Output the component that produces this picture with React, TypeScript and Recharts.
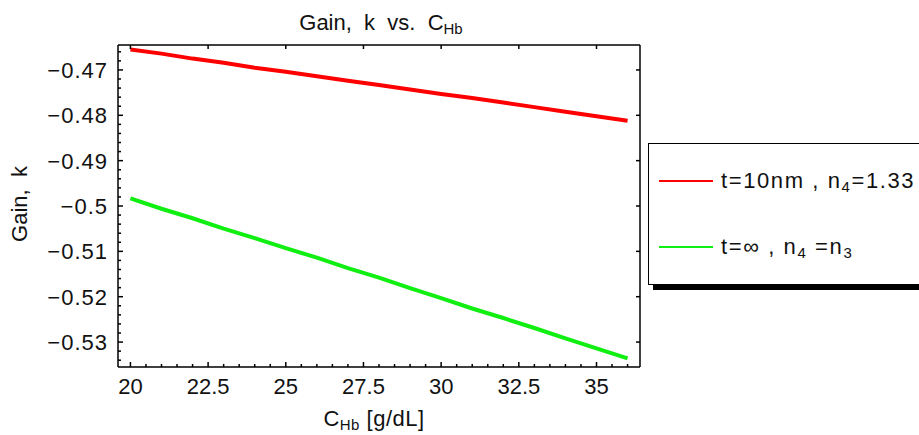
import React from "react";
import { LineChart, Line, XAxis, YAxis, Legend } from "recharts";

// C_Hb in g/dL
const C_HB = [20, 21, 22, 23, 24, 25, 26, 27, 28, 29, 30, 31, 32, 33, 34, 35, 36];
// t = 10nm, n4 = 1.33
const GAIN_10NM = [
  -0.4655, -0.4664, -0.4675, -0.4684, -0.4695, -0.4704, -0.4714, -0.4724, -0.4733,
  -0.4743, -0.4753, -0.4762, -0.4772, -0.4782, -0.4792, -0.4802, -0.4812,
];
// t = inf, n4 = n3
const GAIN_INF = [
  -0.4983, -0.5006, -0.5027, -0.5050, -0.5071, -0.5093, -0.5114, -0.5137, -0.5158,
  -0.5181, -0.5203, -0.5226, -0.5247, -0.5269, -0.5292, -0.5314, -0.5336,
];

const X_MAJOR = [20, 22.5, 25, 27.5, 30, 32.5, 35];
const X_MINOR = [
  20, 20.5, 21, 21.5, 22, 22.5, 23, 23.5, 24, 24.5, 25, 25.5, 26, 26.5, 27, 27.5, 28,
  28.5, 29, 29.5, 30, 30.5, 31, 31.5, 32, 32.5, 33, 33.5, 34, 34.5, 35, 35.5, 36,
];
const Y_MAJOR = [-0.47, -0.48, -0.49, -0.5, -0.51, -0.52, -0.53];
const Y_MINOR = [
  -0.466, -0.468, -0.47, -0.472, -0.474, -0.476, -0.478, -0.48, -0.482, -0.484, -0.486,
  -0.488, -0.49, -0.492, -0.494, -0.496, -0.498, -0.5, -0.502, -0.504, -0.506, -0.508,
  -0.51, -0.512, -0.514, -0.516, -0.518, -0.52, -0.522, -0.524, -0.526, -0.528, -0.53,
  -0.532, -0.534,
];

const X_DOMAIN = [19.6, 36.4];
const Y_DOMAIN = [-0.5355, -0.4645];

const FONT = '"Liberation Sans", Arial, sans-serif';
const INK = "#111";

const data = C_HB.map((c, i) => ({ c, t10: GAIN_10NM[i], tinf: GAIN_INF[i] }));

const fmt = (v: number) => String(v).replace("-", "\u2212");

// frame ticks are drawn inward, like the original
const BottomTick = ({ x, y, payload }: any) => {
  const v = payload.value as number;
  const major = X_MAJOR.includes(v);
  return (
    <g>
      <line x1={x} x2={x} y1={y} y2={y - (major ? 5 : 3)} stroke="#000" strokeWidth={1.5} />
      {major && (
        <text x={x} y={y + 27} textAnchor="middle" fontSize={22} fontFamily={FONT} fill={INK}>
          {v}
        </text>
      )}
    </g>
  );
};

const LeftTick = ({ x, y, payload }: any) => {
  const v = payload.value as number;
  const major = Y_MAJOR.includes(v);
  return (
    <g>
      <line x1={x} x2={x + (major ? 5 : 3)} y1={y} y2={y} stroke="#000" strokeWidth={1.5} />
      {major && (
        <text
          x={x - 10}
          y={y + 8}
          textAnchor="end"
          fontSize={22}
          fontFamily={FONT}
          fill={INK}
          letterSpacing={1}
        >
          {fmt(v)}
        </text>
      )}
    </g>
  );
};

const TopTick = ({ x, y }: any) => (
  <line x1={x} x2={x} y1={y} y2={y + 4} stroke="#000" strokeWidth={1.5} />
);

const RightTick = ({ x, y }: any) => (
  <line x1={x} x2={x - 4} y1={y} y2={y} stroke="#000" strokeWidth={1.5} />
);

const subStyle = { fontSize: 15, verticalAlign: "-4px" };

const LEGEND_LABELS: Record<string, React.ReactNode> = {
  t10: (
    <>
      t=10nm , n<sub style={subStyle}>4</sub>=1.33
    </>
  ),
  tinf: (
    <>
      t=∞ , n<sub style={subStyle}>4</sub> =n<sub style={subStyle}>3</sub>
    </>
  ),
};

const renderLegend = (props: any) => {
  const { payload } = props;
  const rows = [37, 103];
  return (
    <div
      style={{
        position: "relative",
        width: 300,
        height: 142,
        boxSizing: "border-box",
        border: "1.5px solid #000",
        boxShadow: "5px 5px 0 #000",
        background: "#fff",
        fontFamily: FONT,
        fontSize: 22,
        color: INK,
      }}
    >
      {(payload || []).map((entry: any, i: number) => (
        <div
          key={entry.dataKey}
          style={{
            position: "absolute",
            left: 10,
            top: rows[i] - 14,
            height: 28,
            display: "flex",
            alignItems: "center",
            whiteSpace: "pre",
          }}
        >
          <div style={{ width: 54, height: 2, background: entry.color, marginRight: 8 }} />
          <span style={{ letterSpacing: 1.6 }}>{LEGEND_LABELS[entry.dataKey]}</span>
        </div>
      ))}
    </div>
  );
};

const axisLine = { stroke: "#000", strokeWidth: 1.5 };

export default function App() {
  return (
    <div
      style={{
        position: "absolute",
        left: 0,
        top: 0,
        width: 919,
        height: 435,
        overflow: "hidden",
        background: "#fff",
        fontFamily: FONT,
        color: INK,
      }}
    >
      <LineChart width={919} height={435} data={data} margin={{ top: 25, right: 0, bottom: 0, left: 0 }}>
        <XAxis
          xAxisId="b"
          dataKey="c"
          type="number"
          domain={X_DOMAIN}
          allowDataOverflow
          ticks={X_MINOR}
          interval={0}
          height={68}
          tickLine={false}
          tickSize={0}
          tickMargin={0}
          axisLine={axisLine}
          tick={<BottomTick />}
        />
        <XAxis
          xAxisId="t"
          dataKey="c"
          orientation="top"
          type="number"
          domain={X_DOMAIN}
          allowDataOverflow
          ticks={X_MAJOR}
          interval={0}
          height={20}
          tickLine={false}
          tickSize={0}
          tickMargin={0}
          axisLine={axisLine}
          tick={<TopTick />}
        />
        <YAxis
          yAxisId="l"
          type="number"
          domain={Y_DOMAIN}
          allowDataOverflow
          ticks={Y_MINOR}
          interval={0}
          width={118}
          tickLine={false}
          tickSize={0}
          tickMargin={0}
          axisLine={axisLine}
          tick={<LeftTick />}
        />
        <YAxis
          yAxisId="r"
          orientation="right"
          type="number"
          domain={Y_DOMAIN}
          allowDataOverflow
          ticks={Y_MAJOR}
          interval={0}
          width={279}
          tickLine={false}
          tickSize={0}
          tickMargin={0}
          axisLine={axisLine}
          tick={<RightTick />}
        />
        <Legend
          layout="horizontal"
          verticalAlign="middle"
          align="center"
          wrapperStyle={{ left: 648, top: 143, width: 300, height: 142 }}
          content={renderLegend}
        />
        <Line
          xAxisId="b"
          yAxisId="l"
          type="linear"
          dataKey="t10"
          name="t=10nm, n4=1.33"
          stroke="#ff0000"
          strokeWidth={4}
          dot={false}
          isAnimationActive={false}
        />
        <Line
          xAxisId="b"
          yAxisId="l"
          type="linear"
          dataKey="tinf"
          name="t=inf, n4=n3"
          stroke="#11ee11"
          strokeWidth={4}
          dot={false}
          isAnimationActive={false}
        />
      </LineChart>

      <div
        style={{
          position: "absolute",
          left: 0,
          top: 11,
          width: 762,
          textAlign: "center",
          fontSize: 22,
          lineHeight: "24px",
          whiteSpace: "pre",
        }}
      >
        Gain,  k  vs.  C<sub style={subStyle}>Hb</sub>
      </div>

      <div
        style={{
          position: "absolute",
          left: 20,
          top: 204,
          transform: "translate(-50%, -50%) rotate(-90deg)",
          fontSize: 22,
          lineHeight: "24px",
          whiteSpace: "pre",
        }}
      >
        Gain,  k
      </div>

      <div
        style={{
          position: "absolute",
          left: 0,
          top: 407,
          width: 748,
          textAlign: "center",
          fontSize: 22,
          lineHeight: "24px",
          whiteSpace: "pre",
          letterSpacing: 0.5,
        }}
      >
        C<sub style={subStyle}>Hb</sub> [g/dL]
      </div>
    </div>
  );
}
